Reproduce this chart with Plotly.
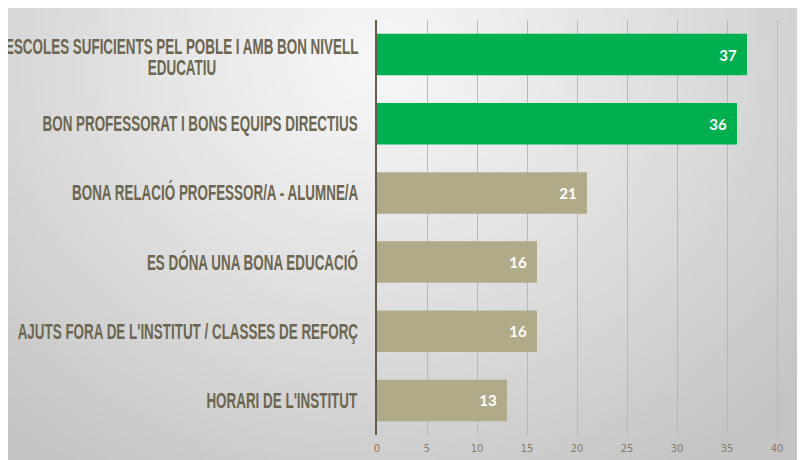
import base64, struct, zlib, math
import plotly.graph_objects as go

# ---------------- data ----------------
categories = [
    "ESCOLES SUFICIENTS PEL POBLE I AMB BON NIVELL<br>EDUCATIU",
    "BON PROFESSORAT I BONS EQUIPS DIRECTIUS",
    "BONA RELACIÓ PROFESSOR/A - ALUMNE/A",
    "ES DÓNA UNA BONA EDUCACIÓ",
    "AJUTS FORA DE L'INSTITUT / CLASSES DE REFORÇ",
    "HORARI DE L'INSTITUT",
]
values = [37, 36, 21, 16, 16, 13]
x_ticks = [0, 5, 10, 15, 20, 25, 30, 35, 40]

GREEN = "#00b050"
TAN = "#b0aa88"
bar_colors = [GREEN, GREEN, TAN, TAN, TAN, TAN]
LABEL_COLOR = "#6c6650"

# ---------------- layout geometry (px, figure coordinates) ----------------
W, H = 805, 460
ML, MR, MT, MB = 369, 31, 12, 33
PW, PH = W - ML - MR, H - MT - MB


def px_to_paper_x(px):
    return (px - ML) / PW


def px_to_paper_y(py):
    return (H - MB - py) / PH


# ---------------- background gradient image ----------------
def make_png(w, h, fn):
    raw = bytearray()
    for j in range(h):
        raw.append(0)
        for i in range(w):
            raw.extend(fn(i, j))

    def chunk(t, d):
        c = struct.pack(">I", len(d)) + t + d
        return c + struct.pack(">I", zlib.crc32(t + d) & 0xFFFFFFFF)

    png = b"\x89PNG\r\n\x1a\n"
    png += chunk(b"IHDR", struct.pack(">IIBBBBB", w, h, 8, 2, 0, 0, 0))
    png += chunk(b"IDAT", zlib.compress(bytes(raw), 9))
    png += chunk(b"IEND", b"")
    return "data:image/png;base64," + base64.b64encode(png).decode()


BG_X0, BG_Y0, BG_X1, BG_Y1 = 0, 0, 791, 460
gw, gh = 160, 92
cx, cy = 372.0, 52.0
R = 560.0


def grad(i, j):
    px = BG_X0 + (i + 0.5) / gw * (BG_X1 - BG_X0)
    py = BG_Y0 + (j + 0.5) / gh * (BG_Y1 - BG_Y0)
    d = math.hypot((px - cx) * 1.0, (py - cy) * 1.15) / R
    d = min(1.0, d)
    v = int(round(247 - (247 - 196) * d ** 1.1))
    return (v, v, v)


bg_src = make_png(gw, gh, grad)

fig = go.Figure()
fig.add_trace(go.Bar(
    x=values,
    y=categories,
    orientation="h",
    width=0.6,
    marker=dict(color=bar_colors, line=dict(width=0)),
    text=[str(v) + "  " for v in values],
    textposition="inside",
    insidetextanchor="end",
    textfont=dict(family="Lato, 'Open Sans', sans-serif", size=15, color="white", weight="bold"),
    cliponaxis=False,
    hoverinfo="skip",
))

# category labels: condensed, right-aligned; wrapped lines centred under the first
LABEL_RIGHT = 352
LINE_STEP = 21
annotations = []
for c in categories:
    lines = c.split("<br>")
    n = len(lines)
    for k, line in enumerate(lines):
        yshift = ((n - 1) / 2 - k) * LINE_STEP - (2 if n > 1 else 0)
        if k == 0:
            x_px, anchor = LABEL_RIGHT, "right"
        else:
            x_px, anchor = 174, "center"
        annotations.append(dict(
            x=px_to_paper_x(x_px), xref="paper", y=c, yref="y",
            xanchor=anchor, yanchor="middle", align="center", yshift=yshift,
            text=line, showarrow=False,
            font=dict(family="'Liberation Sans', Arial, sans-serif",
                      size=22, color=LABEL_COLOR, weight="bold"),
        ))

fig.update_layout(
    width=W, height=H,
    margin=dict(l=ML, r=MR, t=MT, b=MB, pad=0),
    paper_bgcolor="white",
    plot_bgcolor="rgba(0,0,0,0)",
    showlegend=False,
    bargap=0.4,
    annotations=annotations,
    images=[dict(
        source=bg_src, xref="paper", yref="paper",
        x=px_to_paper_x(BG_X0), y=px_to_paper_y(BG_Y0),
        sizex=px_to_paper_x(BG_X1) - px_to_paper_x(BG_X0),
        sizey=px_to_paper_y(BG_Y0) - px_to_paper_y(BG_Y1),
        xanchor="left", yanchor="top", sizing="stretch", layer="below",
    )],
    xaxis=dict(
        range=[0, 40.5], tickvals=x_ticks, ticktext=[str(t) for t in x_ticks],
        showgrid=True, gridcolor="#b8b8b8", gridwidth=1,
        zeroline=False, showline=False, ticks="",
        tickfont=dict(family="'DejaVu Sans', sans-serif", size=10, color="#857d68"),
        ticklabelstandoff=6, fixedrange=True,
    ),
    yaxis=dict(
        autorange="reversed", showticklabels=False, showgrid=False,
        zeroline=False, showline=True, linecolor="#645c44", linewidth=2,
        ticks="", fixedrange=True,
    ),
)

# condensed look of the category labels (the reference uses a condensed face)
post_js = """
var gd = document.getElementById('{plot_id}');
function squeeze(){
  gd.querySelectorAll('.annotation').forEach(function(g){
    var i = +g.getAttribute('data-index');
    var a = (gd.layout.annotations || [])[i] || {};
    var t = g.querySelector('.annotation-text');
    if (!t) return;
    t.style.transformBox = 'fill-box';
    t.style.transformOrigin = (a.xanchor === 'center') ? 'center center' : 'right center';
    t.style.transform = 'scaleX(0.61)';
  });
}
squeeze();
if (gd.on) { gd.on('plotly_afterplot', squeeze); }
"""

fig.write_html("out.html", post_script=post_js)
